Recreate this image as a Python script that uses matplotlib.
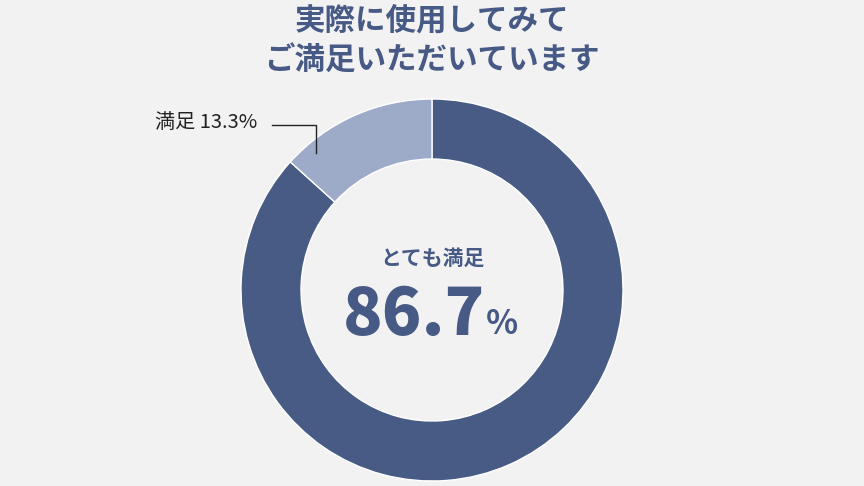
import matplotlib
matplotlib.use("Agg")
import matplotlib.pyplot as plt

plt.rcParams['font.family'] = ['Noto Sans CJK JP', 'DejaVu Sans']

# data
labels = ['とても満足', '満足']
values = [86.7, 13.3]
colors = ['#475b84', '#9dabc9']
title = '実際に使用してみて\nご満足いただいています'

bg = '#f2f2f2'
navy = '#465a85'

fig = plt.figure(figsize=(8.64, 4.86), dpi=100, facecolor=bg)
ax = fig.add_axes([0, 0, 1, 1])
ax.set_facecolor(bg)

cx, cy, r = 432, 486 - 290, 191
ax.pie(values, colors=colors, startangle=90, counterclock=False,
       center=(cx, cy), radius=r,
       wedgeprops=dict(width=60, edgecolor='white', linewidth=1))
ax.set_xlim(0, 864)
ax.set_ylim(0, 486)
ax.set_aspect('equal')
ax.axis('off')

# title
ax.text(432, 486 - 20, title.split('\n')[0], ha='center', va='center',
        fontsize=22, fontweight='bold', color=navy)
ax.text(432, 486 - 61, title.split('\n')[1], ha='center', va='center',
        fontsize=22, fontweight='bold', color=navy)

# centre text
ax.text(432, 486 - 258, labels[0], ha='center', va='center',
        fontsize=15, fontweight='bold', color=navy)
ax.text(485, 486 - 315, f'{values[0]:.1f}', ha='right', va='center',
        fontsize=47, fontweight='heavy', color=navy)
ax.text(486, 486 - 324, '%', ha='left', va='center',
        fontsize=24, fontweight='bold', color=navy)

# outside label with leader line
ax.text(155, 486 - 122, f'{labels[1]} {values[1]}%', ha='left', va='center',
        fontsize=14.5, color='#222222')
ax.plot([272, 316, 316], [486 - 125, 486 - 125, 486 - 153],
        color='#222222', linewidth=1)

fig.savefig('out.png', dpi=100, facecolor=bg)
